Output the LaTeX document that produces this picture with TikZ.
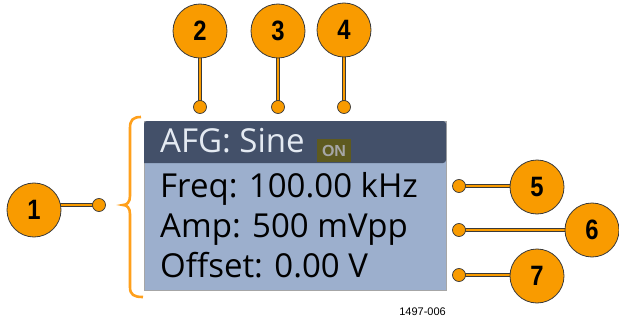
\documentclass[tikz,border=0pt]{standalone}
\usepackage{fontspec}
\setmainfont{Open Sans}
\newfontfamily\numfont{Liberation Sans}
\newfontfamily\narrowfont[FakeStretch=0.85]{Liberation Sans}
\usetikzlibrary{backgrounds}
\definecolor{callout}{HTML}{F99B00}
\definecolor{outl}{HTML}{3A3A3A}
\definecolor{hdr}{HTML}{435069}
\definecolor{panelbody}{HTML}{9CAFCD}
\definecolor{bracecol}{HTML}{FFA01C}
\definecolor{onbox}{HTML}{5E5A1F}
\definecolor{hdrtext}{HTML}{E4EAF2}
\tikzset{
  num/.style={circle, fill=callout, draw=outl, line width=0.8pt, minimum size=54pt, inner sep=0pt,
    font=\narrowfont\bfseries\fontsize{28}{28}\selectfont},
  dot/.style={circle, fill=callout, draw=outl, line width=0.7pt, minimum size=13pt, inner sep=0pt},
  lead/.style={draw=outl, line width=0.7pt, double=callout, double distance=2.6pt},
  paneltext/.style={anchor=base west, inner sep=0pt, font=\fontsize{33}{33}\selectfont},
}
\begin{document}
\begin{tikzpicture}[x=1pt,y=-1pt]
\useasboundingbox (0,0) rectangle (619,321);
\begin{scope}[on background layer]
\fill[white] (0,0) rectangle (619,321);
\end{scope}
% panel
\path[fill=panelbody, draw=gray!70] (144,121) rectangle (446,290);
\fill[hdr, rounded corners=3pt] (144,163) -- (144,121) -- (446,121) -- (446,163) [sharp corners] -- cycle;
\node[paneltext, text=hdrtext] (hdrtxt) at (160,152) {AFG: Sine};
\node[fill=onbox, minimum width=34pt, minimum height=23pt, inner sep=0pt, text=gray!70,
  font=\numfont\bfseries\fontsize{16}{16}\selectfont] (on) at (334,150.5) {ON};
\node[paneltext, text=black] (freq) at (160,197) {Freq: 100.00 kHz};
\node[paneltext, text=black] (amp) at (160,237) {Amp: 500 mVpp};
\node[paneltext, text=black] (off) at (160,277) {Offset: 0.00 V};
% brace
\draw[bracecol, line width=2.6pt] (141,117) .. controls (133,117) and (130,120) .. (130,128) -- (130,196)
  .. controls (130,202) and (127,205) .. (123,205) .. controls (127,205) and (130,208) .. (130,214)
  -- (130,287) .. controls (130,295) and (134,297) .. (143,297);
% callouts
\node[num] (c1) at (34,210) {1};
\node[num] (c2) at (200,31) {2};
\node[num] (c3) at (278,31) {3};
\node[num] (c4) at (344,30) {4};
\node[num] (c5) at (537,187) {5};
\node[num] (c6) at (592,230) {6};
\node[num] (c7) at (537,276) {7};
\node[dot] (d1) at (99,205) {};
\node[dot] (d2) at (200,107) {};
\node[dot] (d3) at (278,107) {};
\node[dot] (d4) at (344,107) {};
\node[dot] (d5) at (459,186) {};
\node[dot] (d6) at (459,230) {};
\node[dot] (d7) at (459,275) {};
\begin{scope}[on background layer]
\draw[lead] (d1.center) -- (d1.center -| c1.center);
\draw[lead] (d2.center) -- (c2.center);
\draw[lead] (d3.center) -- (c3.center);
\draw[lead] (d4.center) -- (c4.center);
\draw[lead] (d5.center) -- (d5.center -| c5.center);
\draw[lead] (d6.center) -- (d6.center -| c6.center);
\draw[lead] (d7.center) -- (d7.center -| c7.center);
\end{scope}
\node[anchor=base east, inner sep=0pt, font=\numfont\fontsize{11}{11}\selectfont] (lbl) at (446,315) {1497-006};
\end{tikzpicture}
\end{document}
